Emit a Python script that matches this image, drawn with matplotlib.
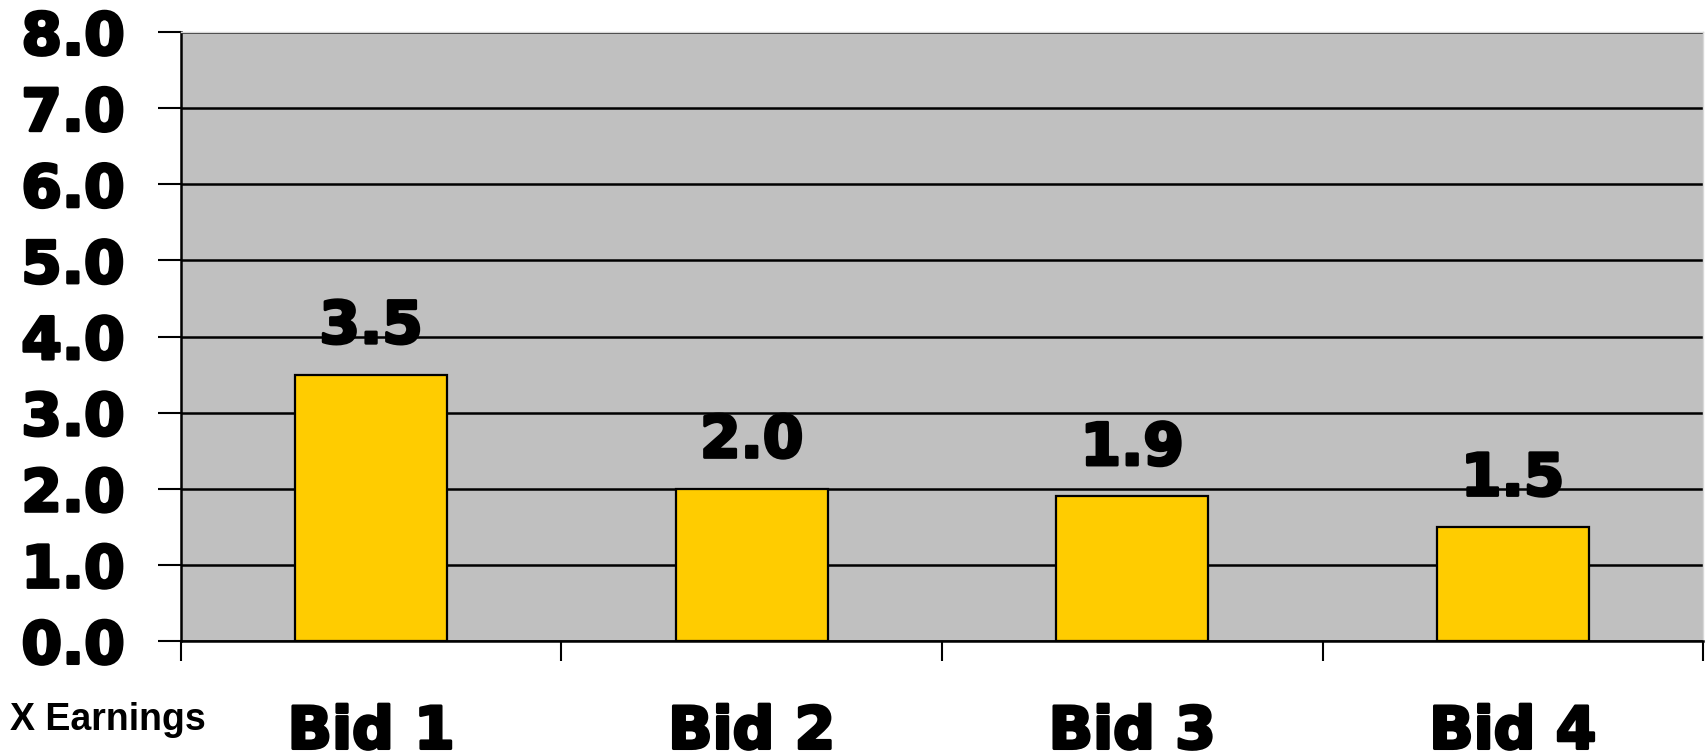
import matplotlib.pyplot as plt
import matplotlib.patheffects as pe
import numpy as np

# Chart data
categories = ["Bid 1", "Bid 2", "Bid 3", "Bid 4"]
values = [3.5, 2.0, 1.9, 1.5]
y_ticks = [0, 1, 2, 3, 4, 5, 6, 7, 8]
axis_note = "X Earnings"

BAR_COLOR = "#FFCC00"
PLOT_BG = "#C0C0C0"

# heavier look, closer to Verdana Bold
heavy = [pe.withStroke(linewidth=2.2, foreground="black")]
big_font = dict(fontsize=42, fontweight="bold", family="DejaVu Sans")

fig = plt.figure(figsize=(17.07, 7.52), dpi=100)
ax = fig.add_axes([0.1060, 0.1476, 0.8917, 0.8098])
ax.set_facecolor(PLOT_BG)

x = np.arange(len(categories))
bars = ax.bar(x, values, width=0.4, color=BAR_COLOR, edgecolor="black",
              linewidth=1.6, zorder=3)

for bar, v in zip(bars, values):
    ax.annotate(f"{v:.1f}", (bar.get_x() + bar.get_width() / 2, v),
                xytext=(0, 14), textcoords="offset points",
                ha="center", va="bottom", zorder=4, path_effects=heavy,
                **big_font)

ax.set_xlim(-0.5, len(categories) - 0.5)
ax.set_ylim(0, 8)

# y axis
ax.set_yticks(y_ticks)
ax.set_yticklabels([f"{t:.1f}" for t in y_ticks], **big_font)
ax.tick_params(axis="y", length=16.5, width=1.5, pad=24, direction="out")
ax.yaxis.grid(True, color="black", linewidth=1.8, zorder=1)
ax.set_axisbelow(True)

# x axis: ticks at category boundaries, labels at centres
ax.set_xticks(np.arange(len(categories) + 1) - 0.5)
ax.set_xticklabels([])
ax.tick_params(axis="x", which="major", length=14.5, width=1.5,
               direction="out")
ax.set_xticks(x, minor=True)
ax.set_xticklabels(categories, minor=True, **big_font)
ax.tick_params(axis="x", which="minor", length=0, pad=45)

for lbl in ax.get_yticklabels() + ax.get_xticklabels(minor=True):
    lbl.set_path_effects(heavy)

for side in ("left", "bottom"):
    ax.spines[side].set_color("black")
    ax.spines[side].set_linewidth(1.8)
for side in ("top", "right"):
    ax.spines[side].set_color("#D8D8D8")
    ax.spines[side].set_linewidth(1.0)

fig.text(10 / 1707, 1 - 730 / 752, axis_note, fontsize=27,
         fontweight="bold", family="Liberation Sans", va="baseline",
         ha="left")

fig.savefig("out.png", dpi=100)
